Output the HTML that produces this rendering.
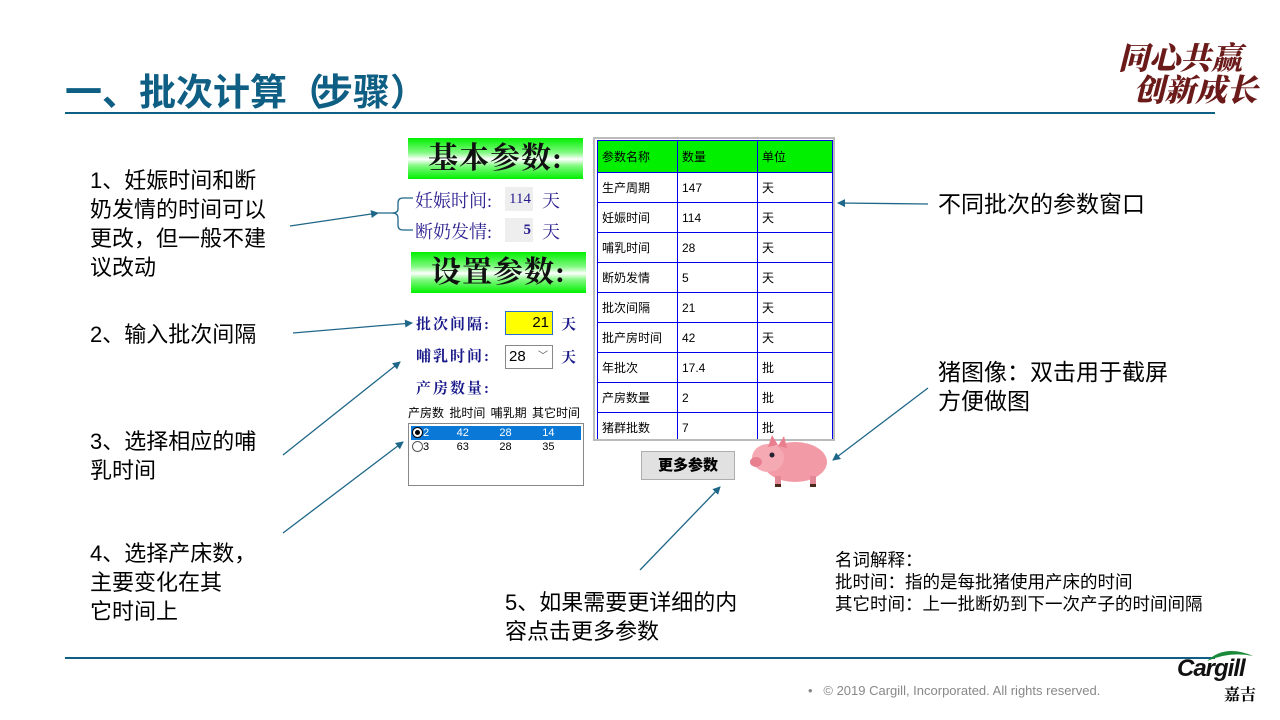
<!DOCTYPE html>
<html><head><meta charset="utf-8"><style>
*{margin:0;padding:0;box-sizing:border-box}
body{width:1280px;height:720px;background:#fff;position:relative;overflow:hidden;font-family:"Liberation Sans","Noto Sans CJK SC",sans-serif;color:#000}
.a{position:absolute}
.t{font-size:22px;line-height:29px}
.ban{position:absolute;background:linear-gradient(#00f000 0%,#7ff97f 35%,#fff 52%,#7ff97f 68%,#00f000 100%);font-family:"Liberation Serif","Noto Serif CJK SC",serif;font-size:30px;font-weight:bold;text-align:center;color:#111;letter-spacing:1px}
.lab{font-family:"Liberation Serif","Noto Serif CJK SC",serif;color:#2a1f8f;font-size:18px}
.blab{font-family:"Liberation Serif","Noto Serif CJK SC",serif;color:#1a1a8a;font-size:15px;font-weight:bold;letter-spacing:2px}
table{border-collapse:collapse;font-size:12px}
td{border:1px solid #0000ee;height:30px;padding-left:4px;vertical-align:middle}
</style></head><body>
<div class="a" style="left:65px;top:62px;font-size:37px;font-weight:bold;color:#0f5f85;font-family:'Liberation Sans','Noto Sans CJK SC',sans-serif">一、批次计算<span style="letter-spacing:-8px">（</span>步骤）</div>
<div class="a" style="left:65px;top:112px;width:1150px;height:2px;background:#0f5f85"></div>
<div class="a" style="left:1118px;top:40px;font-family:'Noto Serif CJK SC',serif;font-weight:900;font-size:31px;line-height:32px;color:#6b1a1a;font-style:italic">同心共赢<br>&nbsp;&nbsp;创新成长</div>

<div class="a t" style="left:90px;top:166px">1、妊娠时间和断<br>奶发情的时间可以<br>更改，但一般不建<br>议改动</div>
<div class="a t" style="left:90px;top:320px">2、输入批次间隔</div>
<div class="a t" style="left:90px;top:427px">3、选择相应的哺<br>乳时间</div>
<div class="a t" style="left:90px;top:539px">4、选择产床数，<br>主要变化在其<br>它时间上</div>
<div class="a t" style="left:505px;top:588px">5、如果需要更详细的内<br>容点击更多参数</div>
<div class="a t" style="left:938px;top:190px;font-size:23px">不同批次的参数窗口</div>
<div class="a t" style="left:938px;top:358px;font-size:23px">猪图像：双击用于截屏<br>方便做图</div>
<div class="a" style="left:835px;top:549px;font-size:17.5px;line-height:22px">名词解释：<br>批时间：指的是每批猪使用产床的时间<br>其它时间：上一批断奶到下一次产子的时间间隔</div>

<div class="ban" style="left:408px;top:138px;width:175px;height:41px;line-height:41px">基本参数:</div>
<div class="ban" style="left:411px;top:252px;width:175px;height:41px;line-height:41px">设置参数:</div>
<div class="a lab" style="left:415px;top:187px">妊娠时间:</div>
<div class="a" style="left:505px;top:187px;width:28px;height:24px;background:#eee;color:#2a1f8f;font-family:'Liberation Serif',serif;font-size:15px;line-height:24px;text-align:right;padding-right:2px">114</div>
<div class="a lab" style="left:542px;top:187px">天</div>
<div class="a lab" style="left:415px;top:218px">断奶发情:</div>
<div class="a" style="left:505px;top:218px;width:28px;height:24px;background:#eee;color:#2a1f8f;font-family:'Liberation Serif',serif;font-size:15px;font-weight:bold;line-height:24px;text-align:right;padding-right:2px">5</div>
<div class="a lab" style="left:542px;top:218px">天</div>

<div class="a blab" style="left:416px;top:313px">批次间隔:</div>
<div class="a" style="left:505px;top:311px;width:48px;height:24px;background:#ff0;border:1px solid #2a6fd0;font-size:15px;line-height:22px;text-align:right;padding-right:3px">21</div>
<div class="a blab" style="left:561px;top:313px">天</div>
<div class="a blab" style="left:416px;top:345px">哺乳时间:</div>
<div class="a" style="left:505px;top:345px;width:48px;height:24px;background:#fff;border:1px solid #888;font-size:15px;line-height:22px;padding-left:3px">28<span style="position:absolute;right:4px;top:0;font-size:10px;color:#555">﹀</span></div>
<div class="a blab" style="left:561px;top:346px">天</div>
<div class="a blab" style="left:416px;top:377px">产房数量:</div>
<div class="a" style="left:408px;top:404px;font-size:12px;word-spacing:2px">产房数 批时间 哺乳期 其它时间</div>
<div class="a" style="left:408px;top:423px;width:176px;height:63px;border:1px solid #888;background:#fff">
<div style="position:absolute;left:2px;top:2px;width:170px;height:14px;background:#0a78d7"></div>
<div style="position:absolute;left:3px;top:3px;width:11px;height:11px;border-radius:50%;border:1px solid #000;background:#fff"><div style="width:5px;height:5px;background:#000;border-radius:50%;margin:2px"></div></div>
<div style="position:absolute;left:3px;top:17px;width:11px;height:11px;border-radius:50%;border:1px solid #555"></div>
<div style="position:absolute;left:14px;top:2px;font-size:11px;line-height:14px;color:#fff;white-space:pre">2         42          28          14</div>
<div style="position:absolute;left:14px;top:16px;font-size:11px;line-height:14px;white-space:pre">3         63          28          35</div>
</div>

<div class="a" style="left:593px;top:137px;width:242px;height:304px;border:2px solid #bbb;background:#fff;overflow:hidden;padding:1px 2px">
<table style="width:236px">
<tr style="background:#00f000"><td style="width:80px;height:32px">参数名称</td><td style="width:80px">数量</td><td>单位</td></tr>
<tr><td>生产周期</td><td>147</td><td>天</td></tr>
<tr><td>妊娠时间</td><td>114</td><td>天</td></tr>
<tr><td>哺乳时间</td><td>28</td><td>天</td></tr>
<tr><td>断奶发情</td><td>5</td><td>天</td></tr>
<tr><td>批次间隔</td><td>21</td><td>天</td></tr>
<tr><td>批产房时间</td><td>42</td><td>天</td></tr>
<tr><td>年批次</td><td>17.4</td><td>批</td></tr>
<tr><td>产房数量</td><td>2</td><td>批</td></tr>
<tr><td>猪群批数</td><td>7</td><td>批</td></tr>
</table></div>
<div class="a" style="left:641px;top:451px;width:94px;height:29px;background:#e1e1e1;border:1px solid #adadad;text-align:center;font-weight:900;font-size:15px;line-height:27px">更多参数</div>

<svg class="a" style="left:0;top:0" width="1280" height="720">
<defs><marker id="m" markerWidth="8" markerHeight="8" refX="7" refY="4" orient="auto" markerUnits="userSpaceOnUse"><path d="M0,0L8,4L0,8z" fill="#1f6788"/></marker></defs>
<g stroke="#1f6788" stroke-width="1.3" fill="none">
<line x1="290" y1="226" x2="378" y2="213" marker-end="url(#m)"/>
<path d="M413,198 H403 Q398,198 398,203 V209 Q398,213 392,213 H378 M392,213 Q398,213 398,218 V225 Q398,230 403,230 H413"/>
<line x1="293" y1="333" x2="412" y2="323" marker-end="url(#m)"/>
<line x1="283" y1="455" x2="400" y2="362" marker-end="url(#m)"/>
<line x1="283" y1="533" x2="403" y2="442" marker-end="url(#m)"/>
<line x1="928" y1="204" x2="838" y2="203" marker-end="url(#m)"/>
<line x1="928" y1="388" x2="833" y2="460" marker-end="url(#m)"/>
<line x1="640" y1="570" x2="720" y2="487" marker-end="url(#m)"/>
</g>
<g>
<ellipse cx="795" cy="462" rx="32" ry="20" fill="#f29ba6"/>
<ellipse cx="768" cy="458" rx="16" ry="14" fill="#f5a9b2"/>
<ellipse cx="756" cy="462" rx="6" ry="5" fill="#e8808f"/>
<path d="M768,447 l4,-12 l6,10z M778,446 l6,-10 l3,12z" fill="#e97f8e"/>
<circle cx="772" cy="455" r="2.5" fill="#223"/>
<rect x="775" y="476" width="6" height="10" fill="#e38896"/><rect x="810" y="476" width="6" height="10" fill="#e38896"/>
<rect x="775" y="484" width="6" height="3" fill="#4a2a1a"/><rect x="810" y="484" width="6" height="3" fill="#4a2a1a"/>
</g>
</svg>

<div class="a" style="left:65px;top:657px;width:1150px;height:1.5px;background:#0f5f85"></div>
<div class="a" style="left:808px;top:683px;font-size:13px;color:#888">•&nbsp;&nbsp;&nbsp;© 2019 Cargill, Incorporated. All rights reserved.</div>
<div class="a" style="left:1177px;top:655px;font-size:24px;font-weight:bold;font-style:italic;color:#111;letter-spacing:-1px">Cargill</div>
<svg class="a" style="left:1205px;top:648px" width="50" height="14"><path d="M2,13 Q20,-4 48,8 Q25,3 2,13z" fill="#1a8a3a"/></svg>
<div class="a" style="left:1224px;top:682px;font-size:16px;font-weight:bold;font-family:'Noto Serif CJK SC',serif">嘉吉</div>
</body></html>
